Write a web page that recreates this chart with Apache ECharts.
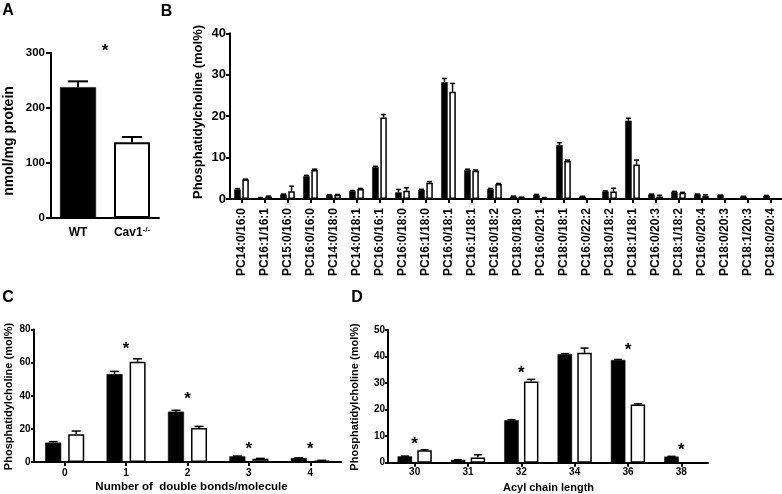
<!DOCTYPE html>
<html>
<head>
<meta charset="utf-8">
<script src="https://cdn.jsdelivr.net/npm/echarts@6/dist/echarts.min.js"></script>
<style>
html,body{margin:0;padding:0;background:#fff;}
#chart{width:782px;height:494px;}
</style>
</head>
<body>
<div id="chart"></div>
<script>
// ---------- Panel A ----------
var aCategories = ['WT', 'Cav1'];
var aValues = [237.5, 137.5];
var aErrors = [10.5, 9.5];
var aTicks = [0, 100, 200, 300];
var aStar = [[0, 1, 310]];

// ---------- Panel B ----------
var bCategories = ['PC14:0/16:0','PC16:1/16:1','PC15:0/16:0','PC16:0/16:0','PC14:0/18:0','PC14:0/18:1',
  'PC16:0/16:1','PC16:0/18:0','PC16:1/18:0','PC16:0/18:1','PC16:1/18:1','PC16:0/18:2','PC18:0/18:0',
  'PC16:0/20:1','PC18:0/18:1','PC16:0/22:2','PC18:0/18:2','PC18:1/18:1','PC16:0/20:3','PC18:1/18:2',
  'PC16:0/20:4','PC18:0/20:3','PC18:1/20:3','PC18:0/20:4'];
var bWT     = [2.3, 0.3, 1.1, 5.5, 0.9, 1.9, 7.7, 1.6, 2.2, 28.2, 7.0, 2.4, 0.6, 1.0, 13.0, 0.6, 1.8, 18.9, 1.1, 1.7, 1.1, 0.9, 0.6, 0.8];
var bWTErr  = [0.2, 0.05, 0.1, 0.2, 0.1, 0.15, 0.2, 0.7, 0.15, 0.9, 0.2, 0.15, 0.1, 0.1, 0.6, 0.05, 0.15, 0.6, 0.1, 0.15, 0.1, 0.05, 0.05, 0.05];
var bKO     = [4.7, 0.6, 1.9, 7.0, 1.0, 2.4, 19.7, 2.0, 3.9, 25.9, 6.8, 3.6, 0.4, 0.3, 9.2, 0, 1.8, 8.3, 0.6, 1.5, 0.7, 0, 0, 0];
var bKOErr  = [0.1, 0.1, 1.2, 0.2, 0.1, 0.15, 0.7, 0.7, 0.3, 2.0, 0.2, 0.15, 0.05, 0.05, 0.2, 0, 0.8, 1.1, 0.3, 0.1, 0.3, 0, 0, 0];
var bTicks = [0, 10, 20, 30, 40];

// ---------- Panel C ----------
var cCategories = ['0', '1', '2', '3', '4'];
var cWT    = [11.7, 53.1, 30.4, 3.4, 2.4];
var cWTErr = [0.6, 1.6, 0.8, 0.2, 0.1];
var cKO    = [16.7, 60.5, 20.5, 1.9, 0.8];
var cKOErr = [2.0, 1.8, 1.0, 0.3, 0.2];
var cTicks = [0, 20, 40, 60, 80];
var cStars = [[1, 1, 70.2], [2, 2, 40], [3, 3, 9.8], [4, 4, 9.8]];

// ---------- Panel D ----------
var dCategories = ['30', '31', '32', '34', '36', '38'];
var dWT    = [2.4, 1.1, 16.0, 40.9, 38.7, 2.3];
var dWTErr = [0.1, 0.05, 0.2, 0.2, 0.2, 0.1];
var dKO    = [4.7, 2.0, 30.6, 41.4, 21.9, 0];
var dKOErr = [0.2, 1.0, 0.8, 1.8, 0.3, 0];
var dTicks = [0, 10, 20, 30, 40, 50];
var dStars = [[0, 0, 8.2], [2, 2, 35], [4, 4, 43.8], [5, 5, 6.0]];

var FONT = 'Liberation Sans, Arial, sans-serif';
var chart = echarts.init(document.getElementById('chart'), null, {renderer: 'canvas'});

function yAxisCfg(idx, ticks, fontSize, margin, tickLen) {
  return {
    type: 'value', gridIndex: idx, min: ticks[0], max: ticks[ticks.length - 1],
    interval: ticks[1] - ticks[0],
    axisLine: {show: true, lineStyle: {color: '#000', width: 2}},
    axisTick: {show: true, length: tickLen, lineStyle: {color: '#000', width: 2}},
    axisLabel: {color: '#000', fontFamily: FONT, fontWeight: 'bold', fontSize: fontSize, margin: margin},
    splitLine: {show: false}
  };
}
function xAxisCfg(idx, cats, fontSize, margin, extra) {
  var o = {
    type: 'category', gridIndex: idx, data: cats,
    axisLine: {show: true, lineStyle: {color: '#000', width: 2}},
    axisTick: {show: true, alignWithLabel: true, length: 4, lineStyle: {color: '#000', width: 2}},
    axisLabel: {color: '#000', fontFamily: FONT, fontWeight: 'bold', fontSize: fontSize, margin: margin, interval: 0},
    splitLine: {show: false}
  };
  if (extra) extra(o);
  return o;
}
function barSeries(idx, data, black, width, gap) {
  return {
    type: 'bar', xAxisIndex: idx, yAxisIndex: idx, data: data, barWidth: width, barGap: gap,
    itemStyle: black ? {color: '#000', borderColor: '#000', borderWidth: 0.5}
                     : {color: '#fff', borderColor: '#000', borderWidth: 1.5},
    silent: true, animation: false
  };
}
function errSeries(idx, vals, errs, offset, capW, lw) {
  return {
    type: 'custom', xAxisIndex: idx, yAxisIndex: idx, clip: false, z: 5, silent: true, animation: false,
    data: vals.map(function (v, i) { return [i, v, errs[i]]; }),
    renderItem: function (params, api) {
      var e = api.value(2);
      if (!e) return null;
      var i = api.value(0), v = api.value(1);
      var p0 = api.coord([i, v]);
      var p1 = api.coord([i, v + e]);
      var x = p0[0] + offset;
      return {type: 'group', children: [
        {type: 'line', shape: {x1: x, y1: p0[1], x2: x, y2: p1[1]}, style: {stroke: '#000', lineWidth: lw}},
        {type: 'line', shape: {x1: x - capW / 2, y1: p1[1], x2: x + capW / 2, y2: p1[1]}, style: {stroke: '#000', lineWidth: lw}}
      ]};
    }
  };
}
function starSeries(idx, stars, fontSize) {
  return {
    type: 'custom', xAxisIndex: idx, yAxisIndex: idx, clip: false, z: 6, silent: true, animation: false,
    data: stars,
    renderItem: function (params, api) {
      var a = api.coord([api.value(0), api.value(2)]);
      var b = api.coord([api.value(1), api.value(2)]);
      return {type: 'text', style: {text: '*', x: (a[0] + b[0]) / 2, y: a[1] + fontSize * 0.22,
        align: 'center', verticalAlign: 'middle', fill: '#000',
        font: 'bold ' + fontSize + 'px ' + FONT}};
    }
  };
}
function txt(x, y, text, size, rot) {
  return {type: 'text', x: x, y: y, rotation: rot || 0, silent: true,
    style: {text: text, fill: '#000', align: 'center', verticalAlign: 'middle',
      font: 'bold ' + size + 'px ' + FONT}};
}

var bW = 6.5, bG = 0.25, cW = 16, cG = 0.44, dW = 14.5, dG = 0.36;

var option = {
  animation: false,
  backgroundColor: '#fff',
  grid: [
    {left: 51, top: 52.7, width: 108, height: 165.3},
    {left: 230, top: 33.3, width: 552, height: 165.7},
    {left: 34, top: 329.5, width: 307, height: 132.5},
    {left: 388, top: 330, width: 320, height: 132.7}
  ],
  xAxis: [
    xAxisCfg(0, aCategories, 12, 8, function (o) {
      o.axisTick.show = false;
      o.axisLabel.formatter = function (v) { return v === 'Cav1' ? '{m|Cav1}{s|-/-}' : '{m|' + v + '}'; };
      o.axisLabel.rich = {
        m: {fontFamily: FONT, fontWeight: 'bold', fontSize: 12, color: '#000', lineHeight: 14},
        s: {fontFamily: FONT, fontWeight: 'bold', fontSize: 8, color: '#000', verticalAlign: 'top', lineHeight: 14, padding: [0, 0, 6, 0]}
      };
    }),
    xAxisCfg(1, bCategories, 12, 9, function (o) { o.axisLabel.rotate = 90; }),
    xAxisCfg(2, cCategories, 10, 6),
    xAxisCfg(3, dCategories, 10, 5)
  ],
  yAxis: [
    yAxisCfg(0, aTicks, 11.5, 6, 5),
    yAxisCfg(1, bTicks, 13, 4, 4),
    yAxisCfg(2, cTicks, 10, 3.5, 3),
    yAxisCfg(3, dTicks, 10, 3, 3)
  ],
  series: [
    {
      type: 'bar', xAxisIndex: 0, yAxisIndex: 0, barWidth: 36, silent: true, animation: false,
      data: aValues.map(function (v, i) {
        return {value: v, itemStyle: i === 0 ? {color: '#000', borderColor: '#000', borderWidth: 0.5}
                                             : {color: '#fff', borderColor: '#000', borderWidth: 2}};
      })
    },
    errSeries(0, aValues, aErrors, 0, 20, 2),
    starSeries(0, aStar, 17),

    barSeries(1, bWT, true, bW, (bG * 100) + '%'),
    barSeries(1, bKO, false, bW, (bG * 100) + '%'),
    errSeries(1, bWT, bWTErr, -(bW + bW * bG) / 2, 5, 1.5),
    errSeries(1, bKO, bKOErr, (bW + bW * bG) / 2, 5, 1.5),

    barSeries(2, cWT, true, cW, (cG * 100) + '%'),
    barSeries(2, cKO, false, cW, (cG * 100) + '%'),
    errSeries(2, cWT, cWTErr, -(cW + cW * cG) / 2, 9, 1.5),
    errSeries(2, cKO, cKOErr, (cW + cW * cG) / 2, 9, 1.5),
    starSeries(2, cStars, 17),

    barSeries(3, dWT, true, dW, (dG * 100) + '%'),
    barSeries(3, dKO, false, dW, (dG * 100) + '%'),
    errSeries(3, dWT, dWTErr, -(dW + dW * dG) / 2, 8, 1.5),
    errSeries(3, dKO, dKOErr, (dW + dW * dG) / 2, 8, 1.5),
    starSeries(3, dStars, 17)
  ],
  graphic: [
    txt(8, 11, 'A', 16),
    txt(166.5, 12, 'B', 16),
    txt(8, 297.5, 'C', 16),
    txt(357, 297.5, 'D', 16),
    txt(9, 141, 'nmol/mg protein', 14, Math.PI / 2),
    txt(198, 112, 'Phosphatidylcholine (mol%)', 13, Math.PI / 2),
    txt(8.5, 396.5, 'Phosphatidylcholine (mol%)', 11, Math.PI / 2),
    txt(355, 397, 'Phosphatidylcholine (mol%)', 11, Math.PI / 2),
    txt(191.5, 487, 'Number of  double bonds/molecule', 11.5),
    txt(548.5, 488, 'Acyl chain length', 11)
  ]
};
chart.setOption(option);
</script>
</body>
</html>
